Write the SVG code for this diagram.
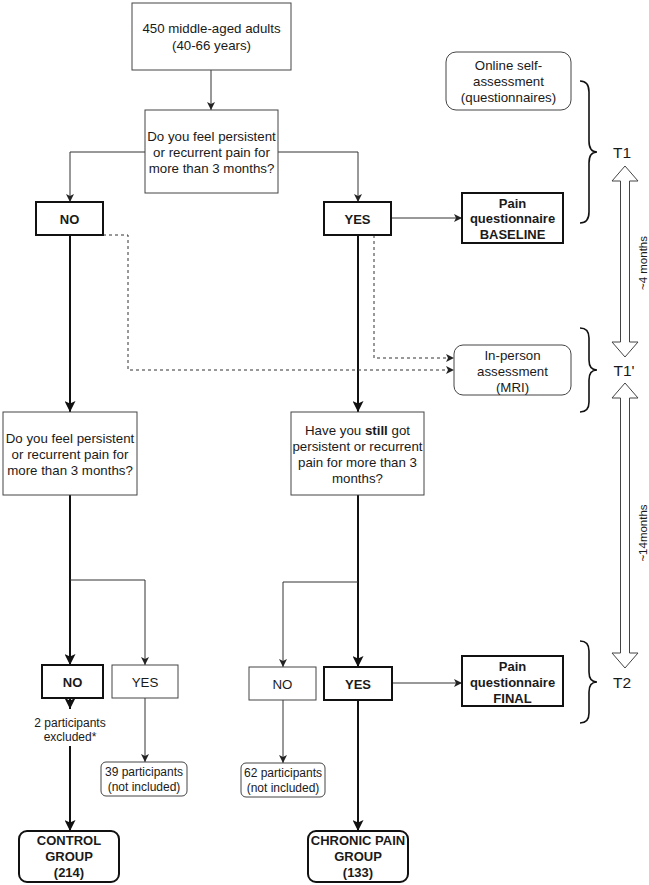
<svg xmlns="http://www.w3.org/2000/svg" width="649" height="885" viewBox="0 0 649 885">
<style>
text{font-family:"Liberation Sans",Arial,sans-serif;font-size:13.3px;fill:#1a1a1a;text-anchor:middle;dominant-baseline:central}
.b{font-weight:bold;font-size:13px}
.s{font-size:12px}
.t{font-size:15.5px}
.r{font-size:11.5px}
.thin{fill:#fff;stroke:#444;stroke-width:1}
.bold{fill:#fff;stroke:#111;stroke-width:2}
.c1{fill:none;stroke:#333;stroke-width:1}
.c2{fill:none;stroke:#111;stroke-width:2}
.d{fill:none;stroke:#333;stroke-width:1;stroke-dasharray:3 3}
.brace{fill:none;stroke:#111;stroke-width:1.6}
.dbl{fill:#fff;stroke:#444;stroke-width:1}
</style>
<defs>
<marker id="a1" markerUnits="userSpaceOnUse" markerWidth="8" markerHeight="8" refX="8" refY="4" orient="auto" viewBox="0 0 8 8"><path d="M0,0 L8,4 L0,8 L2,4 Z" fill="#222"/></marker>
<marker id="a2" markerUnits="userSpaceOnUse" markerWidth="11" markerHeight="11" refX="11" refY="5.5" orient="auto" viewBox="0 0 11 11"><path d="M0,0 L11,5.5 L0,11 L2.5,5.5 Z" fill="#111"/></marker>
</defs>

<g id="connectors">
<path class="c1" d="M211,70 V110" marker-end="url(#a1)"/>
<path class="c1" d="M145,152 H70 V202" marker-end="url(#a1)"/>
<path class="c1" d="M278,152 H358 V202" marker-end="url(#a1)"/>
<path class="c1" d="M392,218 H462" marker-end="url(#a1)"/>
<path class="c2" d="M70,235 V412" marker-end="url(#a2)"/>
<path class="c2" d="M358,235 V412" marker-end="url(#a2)"/>
<path class="d" d="M374,235 V358 H454" marker-end="url(#a1)"/>
<path class="d" d="M103,235 H128 V370 H454" marker-end="url(#a1)"/>
<path class="c2" d="M70,495 V665" marker-end="url(#a2)"/>
<path class="c1" d="M70,580 H145 V665" marker-end="url(#a1)"/>
<path class="c2" d="M70,698 V709" marker-end="url(#a2)"/>
<path class="c2" d="M70,746 V831" marker-end="url(#a2)"/>
<path class="c1" d="M145,698 V762" marker-end="url(#a1)"/>
<path class="c2" d="M358,495 V667" marker-end="url(#a2)"/>
<path class="c1" d="M358,582 H283 V667" marker-end="url(#a1)"/>
<path class="c1" d="M283,700 V763" marker-end="url(#a1)"/>
<path class="c1" d="M392,683 H462" marker-end="url(#a1)"/>
<path class="c2" d="M358,700 V831" marker-end="url(#a2)"/>
</g>

<g id="start">
<rect class="thin" x="132" y="3" width="159" height="67"/>
<text x="211.5" y="28">450 middle-aged adults</text>
<text x="211.5" y="45">(40-66 years)</text>
</g>

<g id="q1">
<rect class="thin" x="145" y="110" width="133" height="83"/>
<text x="211.5" y="136">Do you feel persistent</text>
<text x="211.5" y="152">or recurrent pain for</text>
<text x="211.5" y="168">more than 3 months?</text>
</g>

<g id="no1">
<rect class="bold" x="36" y="202" width="67" height="33"/>
<text class="b" x="69.5" y="219">NO</text>
</g>

<g id="yes1">
<rect class="bold" x="324" y="202" width="67" height="33"/>
<text class="b" x="357.5" y="219">YES</text>
</g>

<g id="baseline">
<rect class="bold" x="462" y="193" width="101" height="50"/>
<text class="b" x="512.5" y="203">Pain</text>
<text class="b" x="512.5" y="218">questionnaire</text>
<text class="b" x="512.5" y="234">BASELINE</text>
</g>

<g id="online">
<rect class="thin" x="446" y="52" width="125" height="58" rx="10"/>
<text x="508.5" y="65">Online self-</text>
<text x="508.5" y="81">assessment</text>
<text x="508.5" y="97">(questionnaires)</text>
</g>

<g id="inperson">
<rect class="thin" x="454" y="345" width="117" height="50" rx="9"/>
<text x="512.5" y="355">In-person</text>
<text x="512.5" y="371">assessment</text>
<text x="512.5" y="387">(MRI)</text>
</g>

<g id="q2left">
<rect class="thin" x="3" y="412" width="134" height="83"/>
<text x="70" y="438">Do you feel persistent</text>
<text x="70" y="454">or recurrent pain for</text>
<text x="70" y="470">more than 3 months?</text>
</g>

<g id="q2right">
<rect class="thin" x="291" y="412" width="133" height="83"/>
<text x="357.5" y="430">Have you <tspan font-weight="bold">still</tspan> got</text>
<text x="357.5" y="446">persistent or recurrent</text>
<text x="357.5" y="462">pain for more than 3</text>
<text x="357.5" y="478">months?</text>
</g>

<g id="no2">
<rect class="bold" x="42" y="665" width="61" height="33"/>
<text class="b" x="72.5" y="682">NO</text>
</g>

<g id="yes2">
<rect class="thin" x="112" y="665" width="66" height="33"/>
<text x="145" y="682">YES</text>
</g>

<g id="excluded">
<text class="s" x="70" y="723">2 participants</text>
<text class="s" x="70" y="737">excluded*</text>
</g>

<g id="n39">
<rect class="thin" x="101" y="762" width="86" height="34" rx="5"/>
<text class="s" x="144" y="772">39 participants</text>
<text class="s" x="144" y="787">(not included)</text>
</g>

<g id="control">
<rect class="bold" x="19" y="831" width="100" height="51" rx="8"/>
<text class="b" x="69" y="840">CONTROL</text>
<text class="b" x="69" y="856">GROUP</text>
<text class="b" x="69" y="872">(214)</text>
</g>

<g id="no3">
<rect class="thin" x="249" y="667" width="67" height="33"/>
<text x="282.5" y="684">NO</text>
</g>

<g id="yes3">
<rect class="bold" x="324" y="667" width="68" height="33"/>
<text class="b" x="358" y="684">YES</text>
</g>

<g id="final">
<rect class="bold" x="462" y="656" width="101" height="50"/>
<text class="b" x="512.5" y="666">Pain</text>
<text class="b" x="512.5" y="682">questionnaire</text>
<text class="b" x="512.5" y="698">FINAL</text>
</g>

<g id="n62">
<rect class="thin" x="241" y="763" width="84" height="34" rx="5"/>
<text class="s" x="283" y="773">62 participants</text>
<text class="s" x="283" y="788">(not included)</text>
</g>

<g id="chronic">
<rect class="bold" x="308" y="831" width="100" height="51" rx="8"/>
<text class="b" x="358" y="840">CHRONIC PAIN</text>
<text class="b" x="358" y="856">GROUP</text>
<text class="b" x="358" y="872">(133)</text>
</g>

<g id="timeline">
<path class="brace" d="M580,81 Q589,81 589,92 L589,141 Q589,152 597,152 Q589,152 589,163 L589,212 Q589,223 580,223"/>
<path class="brace" d="M580,328 Q589,328 589,338 L589,360 Q589,370 597,370 Q589,370 589,380 L589,402 Q589,412 580,412"/>
<path class="brace" d="M580,641 Q589,641 589,651 L589,672 Q589,682 597,682 Q589,682 589,692 L589,713 Q589,723 580,723"/>
<text class="t" x="622" y="152">T1</text>
<text class="t" x="624" y="370">T1'</text>
<text class="t" x="622" y="682">T2</text>
<polygon class="dbl" points="625,166 638,181 629.5,181 629.5,342 638,342 625,357 612,342 620.5,342 620.5,181 612,181"/>
<polygon class="dbl" points="625,383 638,398 629.5,398 629.5,653 638,653 625,668 612,653 620.5,653 620.5,398 612,398"/>
<text class="r" transform="translate(643,263) rotate(-90)">~4 months</text>
<text class="r" transform="translate(643,533) rotate(-90)">~14months</text>
</g>
</svg>
